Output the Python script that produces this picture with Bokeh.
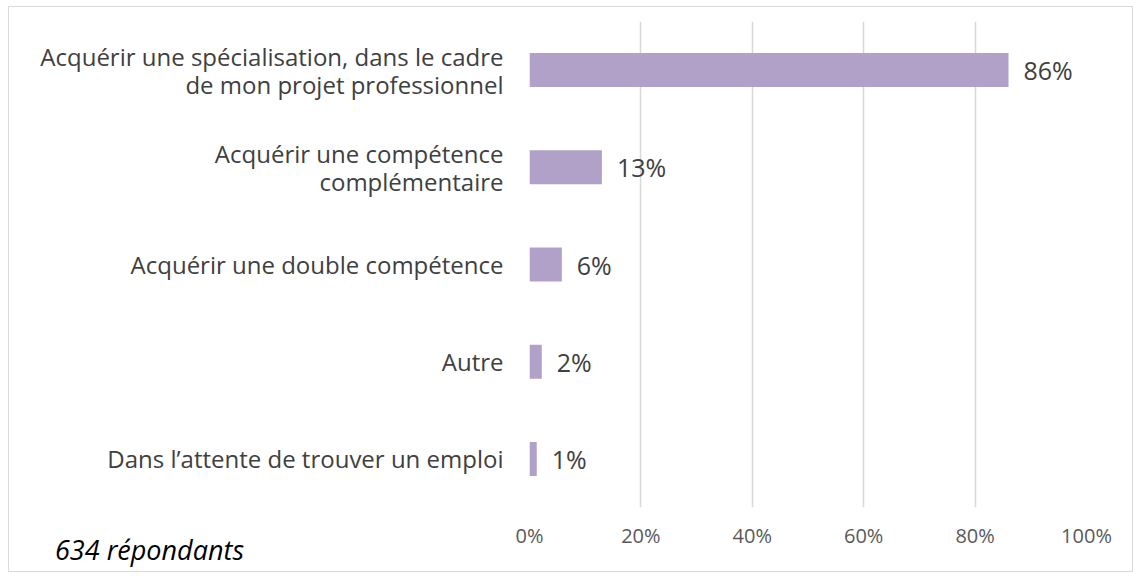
from bokeh.plotting import figure
from bokeh.models import ColumnDataSource, FactorRange, Div
from bokeh.layouts import column
from bokeh.core.properties import value
from bokeh.embed import file_html
from bokeh.resources import INLINE

categories = [
    "Acquérir une spécialisation, dans le cadre\nde mon projet professionnel",
    "Acquérir une compétence\ncomplémentaire",
    "Acquérir une double compétence",
    "Autre",
    "Dans l’attente de trouver un emploi",
]
values = [86, 13, 5.8, 2.2, 1.3]
value_labels = ["86%", "13%", "6%", "2%", "1%"]
ticks = [0, 20, 40, 60, 80, 100]
tick_labels = {0: "0%", 20: "20%", 40: "40%", 60: "60%", 80: "80%", 100: "100%"}
note = "634 répondants"

FONT = "Open Sans"
TEXT = "#404040"

src = ColumnDataSource(dict(cat=categories, val=values, lab=value_labels))

p = figure(frame_width=555, frame_height=484, output_backend="svg", toolbar_location=None,
           y_range=FactorRange(*reversed(categories)), x_range=(0, 100),
           min_border_left=520, min_border_right=48, min_border_top=14, min_border_bottom=66)
p.margin = (6, 0, 0, 8)
p.styles = {"border": "1px solid #d9d9d9"}
p.outline_line_color = None
p.hbar(y="cat", right="val", left=0, height=0.35, source=src, color="#b1a0c7", line_color=None)
p.text(x="val", y="cat", text="lab", source=src, x_offset=15, text_baseline="middle",
       text_font=value(FONT), text_font_size="25px", text_color=TEXT)

p.xaxis.ticker = ticks
p.xaxis.major_label_overrides = tick_labels
p.xaxis.axis_line_color = None
p.xaxis.major_tick_line_color = None
p.xaxis.minor_tick_line_color = None
p.xaxis.major_label_text_font = FONT
p.xaxis.major_label_text_font_size = "20px"
p.xaxis.major_label_text_color = "#595959"
p.xaxis.major_label_standoff = 8

p.yaxis.axis_line_color = None
p.yaxis.major_tick_line_color = None
p.yaxis.minor_tick_line_color = None
p.yaxis.major_label_text_font = FONT
p.yaxis.major_label_text_font_size = "24px"
p.yaxis.major_label_text_color = TEXT
p.yaxis.major_label_text_line_height = 0.85
p.yaxis.major_label_standoff = 20

p.ygrid.grid_line_color = None
p.xgrid.grid_line_color = "#d9d9d9"
p.xgrid.grid_line_width = 1.5

div = Div(text=note, margin=(-40, 0, 0, 55),
          styles={"font-family": "Open Sans", "font-style": "italic", "font-size": "27px",
                  "line-height": "36px", "color": "#000000"})

layout = column(p, div)
open("out.html", "w").write(file_html(layout, INLINE))
